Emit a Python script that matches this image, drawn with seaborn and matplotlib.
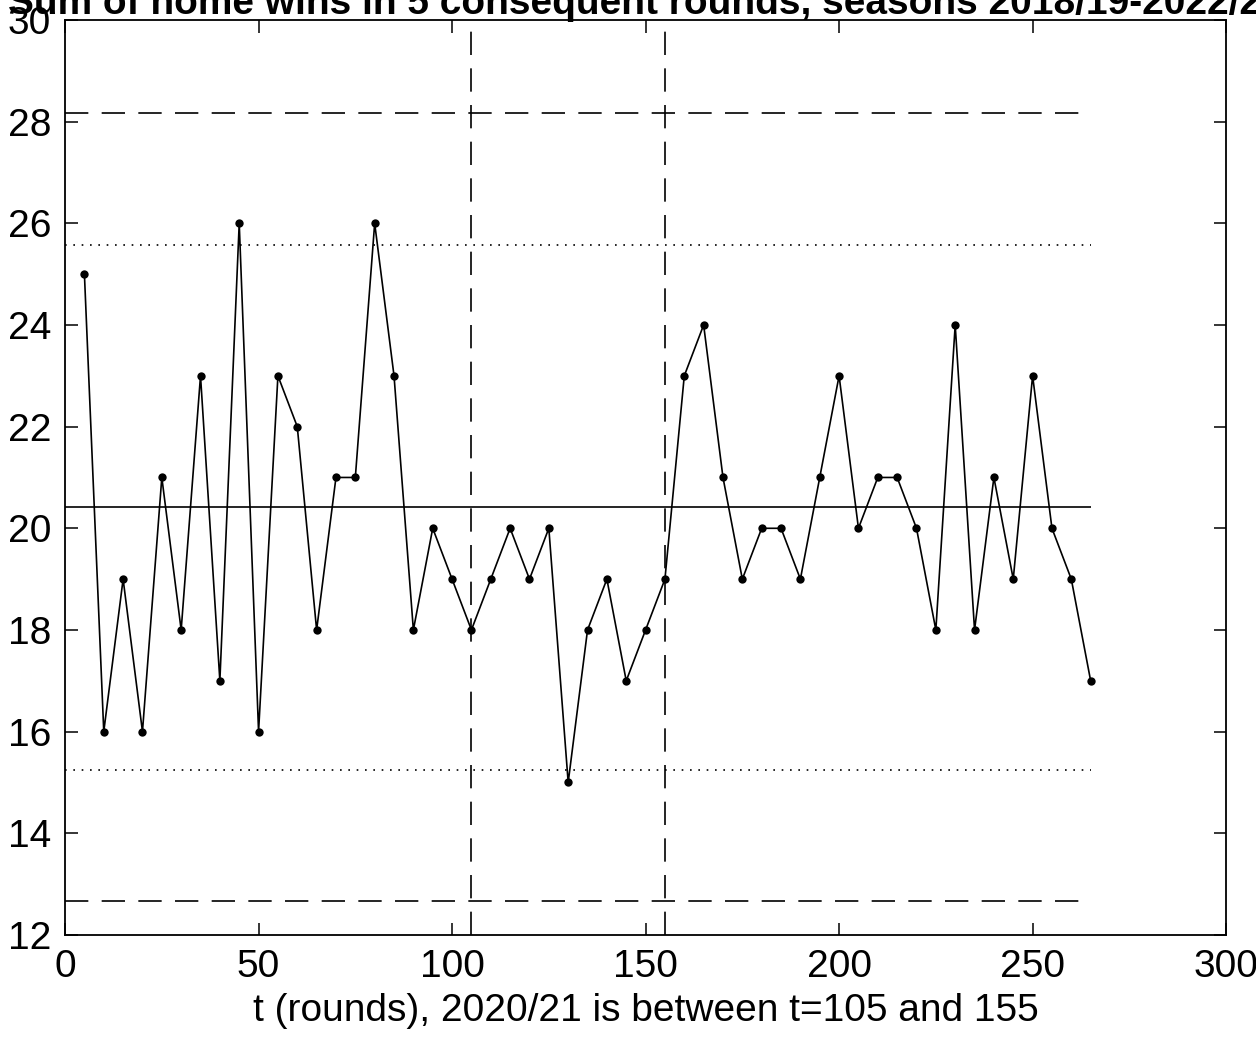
import matplotlib
matplotlib.use("Agg")
import matplotlib.pyplot as plt
import seaborn as sns
import pandas as pd

# rounds (end of each 5-round window) and home wins in that window
t_rounds = list(range(5, 270, 5))
home_wins = [25, 16, 19, 16, 21, 18, 23, 17, 26, 16,
             23, 22, 18, 21, 21, 26, 23, 18, 20, 19,
             18, 19, 20, 19, 20, 15, 18, 19, 17, 18,
             19, 23, 24, 21, 19, 20, 20, 19, 21, 23,
             20, 21, 21, 20, 18, 24, 18, 21, 19, 23,
             20, 19, 17]

# control chart limits
center = 20.41
warn_lo, warn_hi = 15.25, 25.58
ctrl_lo, ctrl_hi = 12.67, 28.17
season_bounds = [105, 155]

df = pd.DataFrame({"t": t_rounds, "wins": home_wins})

sns.set_style("ticks")
plt.rcParams["font.family"] = ["Liberation Sans", "DejaVu Sans"]
plt.rcParams["text.color"] = "black"
plt.rcParams["axes.labelcolor"] = "black"
plt.rcParams["xtick.color"] = "black"
plt.rcParams["ytick.color"] = "black"

fig = plt.figure(figsize=(12.56, 10.45), dpi=100)
ax = fig.add_axes([0.0518, 0.1053, 0.9244, 0.8756])

sns.lineplot(data=df, x="t", y="wins", ax=ax, color="black", lw=1.2,
             marker="o", markersize=6, markeredgewidth=0)

ax.hlines(center, 0, 265, color="black", lw=1.2)
for y in (warn_lo, warn_hi):
    ax.hlines(y, 0, 265, color="black", lw=1.2, linestyles=(0, (1, 4)))
for y in (ctrl_lo, ctrl_hi):
    ax.hlines(y, 0, 265, color="black", lw=1.2, linestyles=(0, (14, 8)))
for x in season_bounds:
    ax.axvline(x, color="black", lw=1.2, linestyle=(0, (14, 8)))

ax.set_xlim(0, 300)
ax.set_ylim(12, 30)
ax.set_xticks(range(0, 301, 50))
ax.set_yticks(range(12, 31, 2))
ax.tick_params(direction="in", length=9, width=1.1, labelsize=28,
               top=True, right=True)
ax.tick_params(axis="x", pad=10)
ax.tick_params(axis="y", pad=10)
for s in ax.spines.values():
    s.set_linewidth(1.3)
    s.set_color("black")

ax.set_xlabel("t (rounds), 2020/21 is between t=105 and 155", fontsize=28,
              labelpad=6)
ax.set_ylabel("")
ax.set_title("Sum of home wins in 5 consequent rounds, seasons 2018/19-2022/23",
             fontsize=28, fontweight="bold", pad=4)

fig.savefig("out.png", dpi=100)
